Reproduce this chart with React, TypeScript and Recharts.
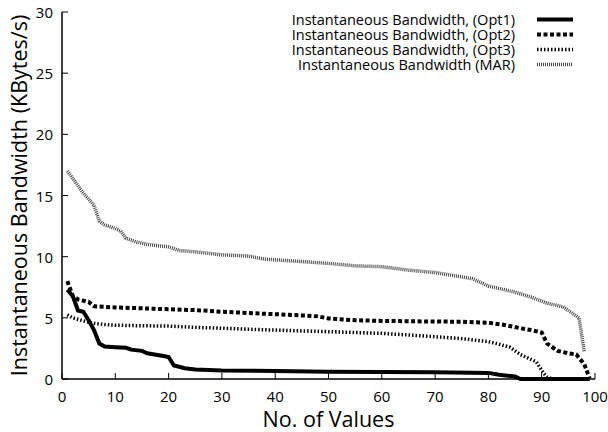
import { Legend, Line, LineChart, XAxis, YAxis } from 'recharts';

const xTicks = [0, 10, 20, 30, 40, 50, 60, 70, 80, 90, 100];
const yTicks = [0, 5, 10, 15, 20, 25, 30];

// values
const opt1X = [1, 2, 3, 4, 5, 6, 7, 8, 10, 12, 13, 15, 16, 19, 20, 21, 22, 23, 25, 30, 40, 50, 60, 70, 80, 82, 85, 86, 99];
const opt1Y = [7.3, 6.8, 5.6, 5.5, 4.8, 4.0, 2.9, 2.65, 2.6, 2.55, 2.4, 2.3, 2.1, 1.88, 1.8, 1.1, 1.0, 0.88, 0.78, 0.7, 0.65, 0.6, 0.58, 0.55, 0.5, 0.35, 0.2, 0, 0];

const opt2X = [1, 2, 3, 5, 6, 10, 15, 20, 25, 30, 36, 40, 45, 48, 50, 55, 60, 65, 70, 75, 80, 83, 86, 88, 90, 91, 93, 95, 96.5, 98, 99];
const opt2Y = [8.0, 6.8, 6.5, 6.3, 5.95, 5.85, 5.78, 5.7, 5.63, 5.5, 5.37, 5.3, 5.2, 5.12, 4.95, 4.8, 4.75, 4.72, 4.7, 4.68, 4.6, 4.42, 4.15, 4.0, 3.8, 2.9, 2.3, 2.1, 2.0, 1.2, 0.05];

const opt3X = [1, 2, 4, 6, 8, 10, 15, 20, 25, 30, 36, 40, 45, 50, 55, 60, 65, 70, 75, 80, 82, 84, 86, 88, 89, 90, 91, 92, 97];
const opt3Y = [5.25, 5.0, 4.75, 4.55, 4.45, 4.4, 4.35, 4.33, 4.22, 4.15, 4.05, 4.0, 3.93, 3.87, 3.8, 3.73, 3.6, 3.46, 3.3, 3.05, 2.85, 2.6, 2.0, 1.6, 1.4, 0.7, 0.15, 0, 0];

const marX = [1, 2, 3, 4, 5, 6, 7, 8, 10, 11, 12, 14, 16, 18, 20, 22, 25, 30, 35, 38, 45, 50, 55, 60, 65, 70, 75, 77, 80, 85, 88, 91, 94, 97, 98];
const marY = [17.0, 16.4, 15.8, 15.2, 14.7, 14.2, 12.9, 12.6, 12.3, 12.1, 11.5, 11.2, 11.0, 10.9, 10.8, 10.5, 10.4, 10.15, 10.05, 9.8, 9.6, 9.45, 9.25, 9.18, 8.9, 8.7, 8.35, 8.2, 7.6, 7.1, 6.7, 6.2, 5.9, 5.0, 2.2];

const toPoints = (xs: number[], ys: number[]) => xs.map((x, i) => ({ x, y: ys[i] }));

const series = [
  { name: 'Instantaneous Bandwidth, (Opt1)', data: toPoints(opt1X, opt1Y), color: '#000', width: 4, dash: undefined },
  { name: 'Instantaneous Bandwidth, (Opt2)', data: toPoints(opt2X, opt2Y), color: '#000', width: 4, dash: '4 2.5' },
  { name: 'Instantaneous Bandwidth, (Opt3)', data: toPoints(opt3X, opt3Y), color: '#000', width: 3.5, dash: '1.5 2' },
  { name: 'Instantaneous Bandwidth (MAR)', data: toPoints(marX, marY), color: '#444', width: 3.5, dash: '1 1' },
];

const FONT = '"Open Sans", sans-serif';

const BottomTick = ({ x, y, payload }: any) => (
  <g>
    <line x1={x} y1={y} x2={x} y2={y - 6} stroke="#000" strokeWidth={1} />
    <text x={x} y={y + 17} textAnchor="middle" dominantBaseline="central" fontSize={15} fontFamily={FONT} fill="#000">
      {payload.value}
    </text>
  </g>
);

const LeftTick = ({ x, y, payload }: any) => (
  <g>
    <line x1={x} y1={y} x2={x + 6} y2={y} stroke="#000" strokeWidth={1} />
    <text x={x - 9} y={y} textAnchor="end" dominantBaseline="central" fontSize={15} fontFamily={FONT} fill="#000">
      {payload.value}
    </text>
  </g>
);

const TopTick = ({ x, y }: any) => <line x1={x} y1={y} x2={x} y2={y + 6} stroke="#000" strokeWidth={1} />;
const RightTick = ({ x, y }: any) => <line x1={x} y1={y} x2={x - 6} y2={y} stroke="#000" strokeWidth={1} />;

const ROW_H = 15;

const LegendBox = () => (
  <div style={{ width: 608, paddingTop: 12 }}>
    {series.map((s) => (
      <div key={s.name} style={{ position: 'relative', width: 608, height: ROW_H }}>
        <div
          style={{
            position: 'absolute',
            right: 93,
            top: 0,
            height: ROW_H,
            lineHeight: `${ROW_H}px`,
            fontSize: 14.5,
            fontFamily: FONT,
            color: '#000',
            whiteSpace: 'nowrap',
            overflow: 'visible',
          }}
        >
          {s.name}
        </div>
        <svg width={36} height={ROW_H} style={{ position: 'absolute', left: 537, top: 0 }}>
          <line x1={0} y1={ROW_H / 2} x2={36} y2={ROW_H / 2} stroke={s.color} strokeWidth={s.width} strokeDasharray={s.dash} />
        </svg>
      </div>
    ))}
  </div>
);

export default function App() {
  return (
    <div style={{ position: 'absolute', left: 0, top: 0, width: 608, height: 432, background: '#fff' }}>
      <LineChart width={608} height={432} margin={{ top: 12, right: 13, left: 0, bottom: 0 }}>
        <XAxis
          dataKey="x"
          type="number"
          domain={[0, 100]}
          ticks={xTicks}
          height={53}
          tickSize={0}
          tickMargin={0}
          tickLine={false}
          tick={<BottomTick />}
          axisLine={{ stroke: '#000', strokeWidth: 1.5 }}
          label={{
            value: 'No. of Values',
            position: 'insideBottom',
            offset: 5,
            fontSize: 21.5,
            fontFamily: FONT,
            fill: '#000',
          }}
        />
        <XAxis
          xAxisId="t"
          orientation="top"
          type="number"
          domain={[0, 100]}
          ticks={xTicks}
          height={0}
          tickSize={0}
          tickLine={false}
          tick={<TopTick />}
          axisLine={{ stroke: '#000', strokeWidth: 1.5 }}
        />
        <YAxis
          type="number"
          domain={[0, 30]}
          ticks={yTicks}
          width={62}
          tickSize={0}
          tickMargin={0}
          tickLine={false}
          tick={<LeftTick />}
          axisLine={{ stroke: '#000', strokeWidth: 1.5 }}
          label={(props: any) => {
            const vb = props.viewBox;
            const cy = vb.y + vb.height / 2;
            return (
              <text
                x={18}
                y={cy}
                transform={`rotate(-90, 18, ${cy})`}
                textAnchor="middle"
                dominantBaseline="central"
                fontSize={21.5}
                fontFamily={FONT}
                fill="#000"
              >
                Instantaneous Bandwidth (KBytes/s)
              </text>
            );
          }}
        />
        <YAxis
          yAxisId="r"
          orientation="right"
          type="number"
          domain={[0, 30]}
          ticks={yTicks}
          width={0}
          tickSize={0}
          tickLine={false}
          tick={<RightTick />}
          axisLine={{ stroke: '#000', strokeWidth: 1.5 }}
        />
        <Legend
          layout="vertical"
          align="center"
          verticalAlign="middle"
          width={608}
          height={80}
          wrapperStyle={{ top: 0, left: 0 }}
          content={<LegendBox />}
        />
        {series.map((s) => (
          <Line
            key={s.name}
            name={s.name}
            data={s.data}
            dataKey="y"
            type="linear"
            stroke={s.color}
            strokeWidth={s.width}
            strokeDasharray={s.dash}
            dot={false}
            activeDot={false}
            isAnimationActive={false}
          />
        ))}
      </LineChart>
    </div>
  );
}
